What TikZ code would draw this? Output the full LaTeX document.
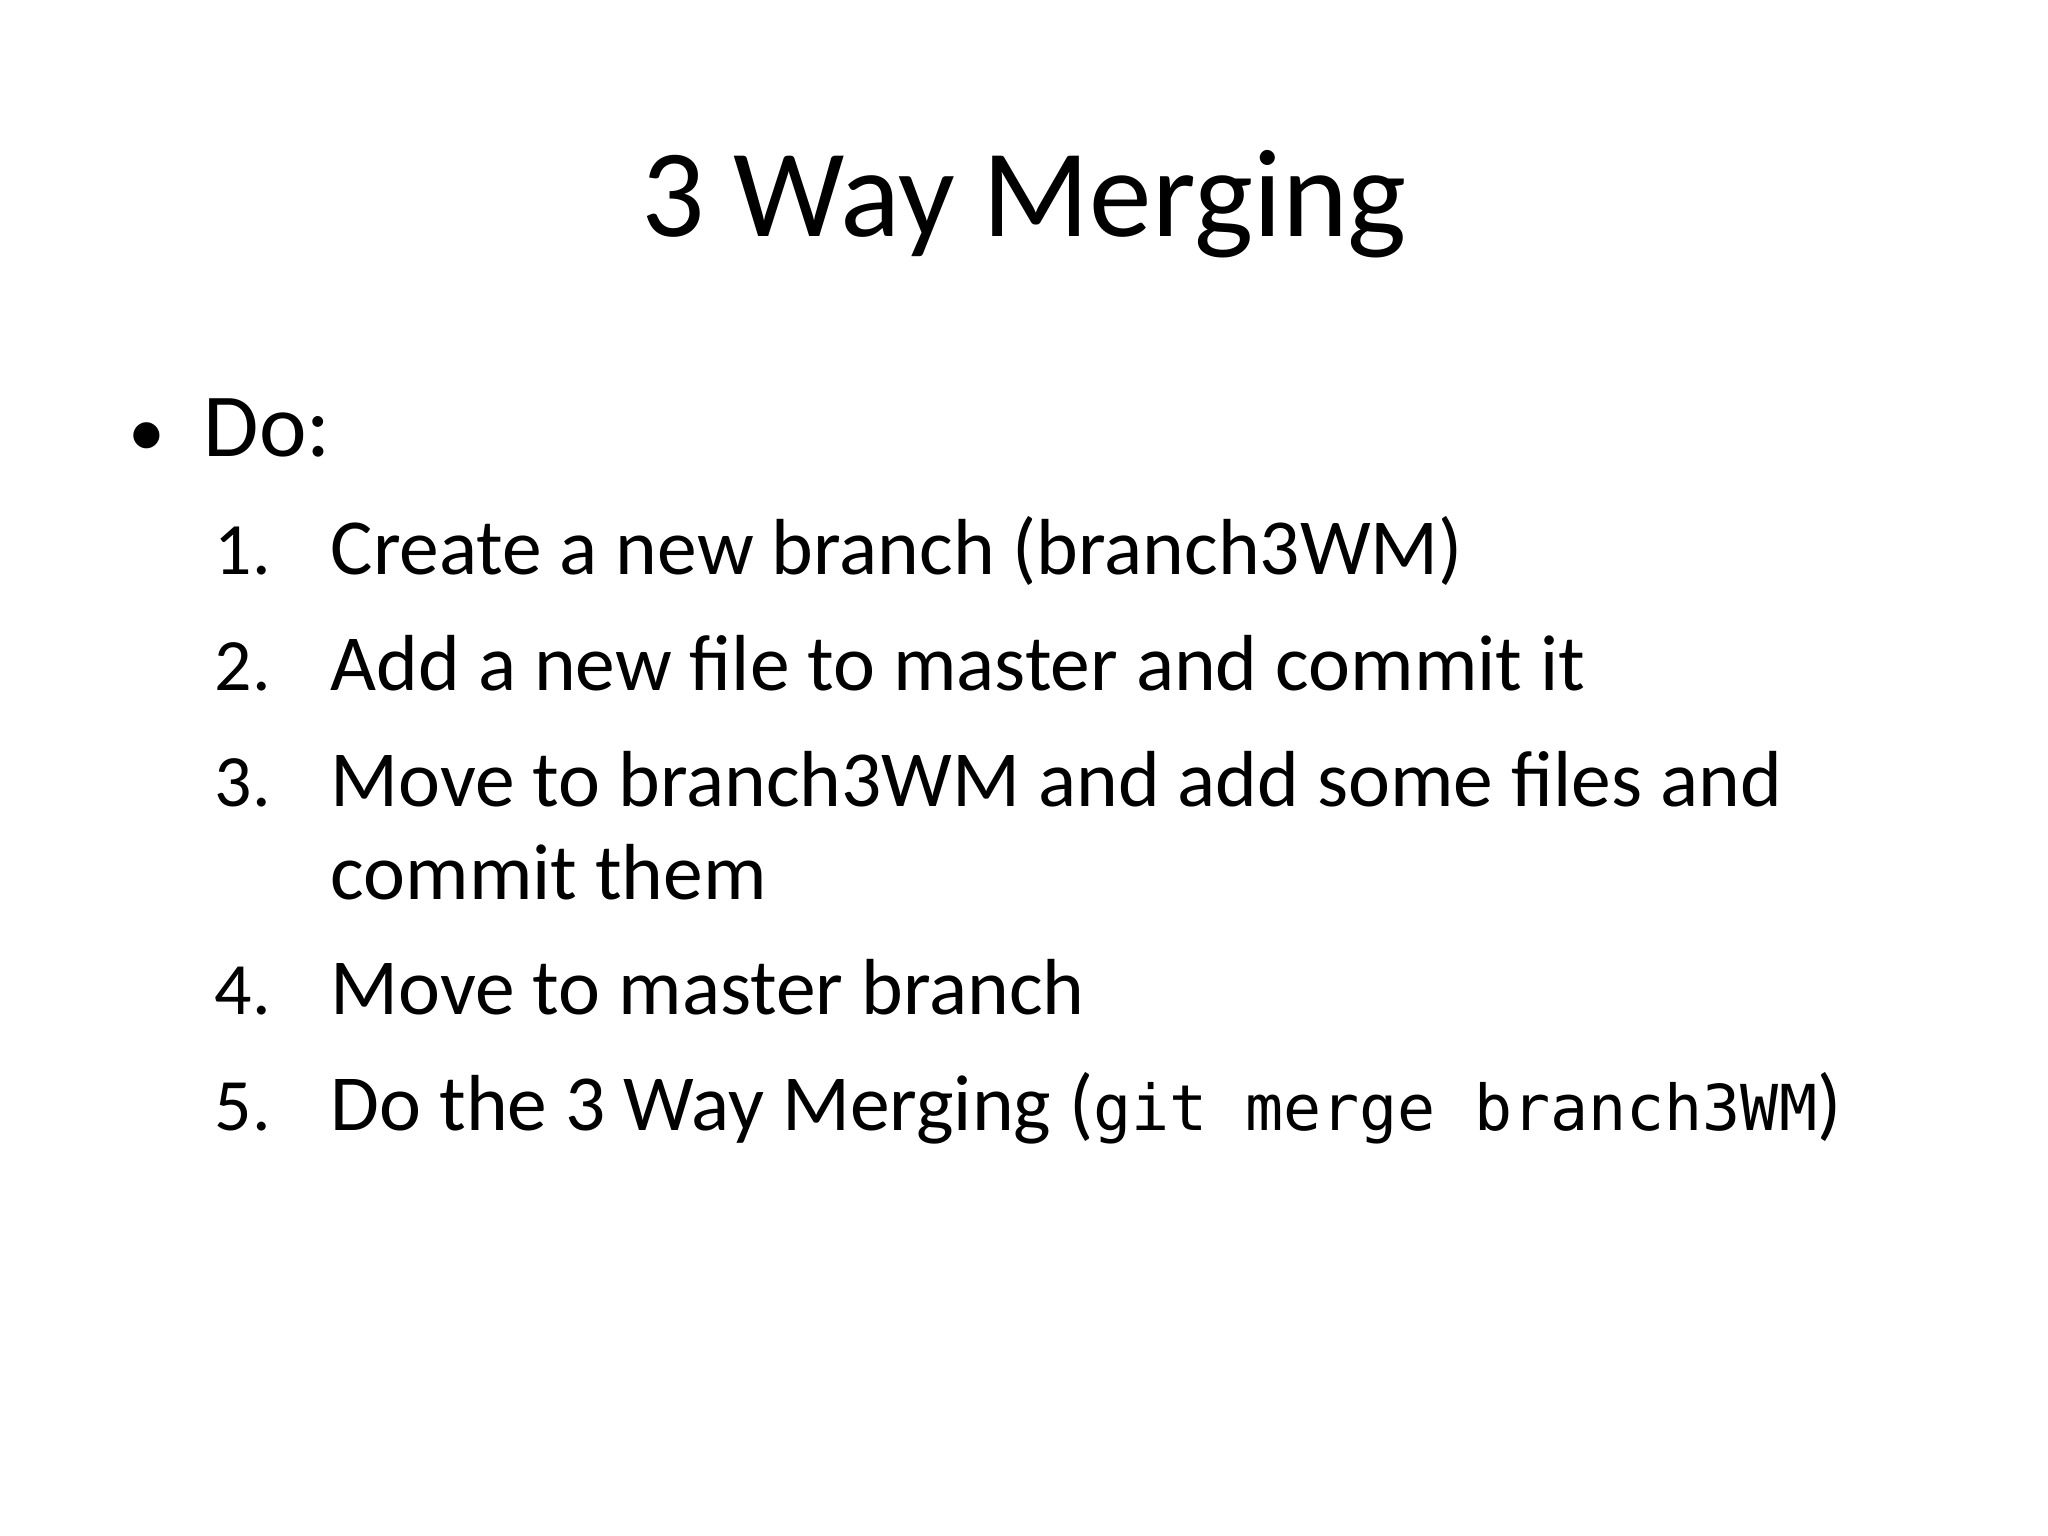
\documentclass[tikz,border=0pt]{standalone}
\usepackage{fontspec}
\setmainfont{Carlito}
\setmonofont{DejaVu Sans Mono}
\begin{document}
\begin{tikzpicture}[x=0.01cm,y=-0.01cm,
  body/.style={anchor=base west,inner sep=0pt,font=\fontsize{22.6pt}{27pt}\selectfont},
  num/.style={anchor=base west,inner sep=0pt,font=\fontsize{21pt}{25pt}\selectfont}]
\useasboundingbox[fill=white] (0,0) rectangle (2048,1536);
\node[anchor=base,inner sep=0pt,font=\fontsize{35.6pt}{40pt}\selectfont] (title) at (1024,236) {3 Way Merging};
\node[anchor=base west,inner sep=0pt,font=\fontsize{21pt}{25pt}\selectfont] (bul) at (128,456) {•};
\node[anchor=base west,inner sep=0pt,font=\fontsize{25.6pt}{30pt}\selectfont] (do) at (203,456) {Do:};
\node[num] (n1) at (214,574) {1.};
\node[body] (t1) at (330,574) {Create a new branch (branch3WM)};
\node[num] (n2) at (214,690) {2.};
\node[body] (t2) at (330,690) {Add a new file to master and commit it};
\node[num] (n3) at (214,806) {3.};
\node[body] (t3) at (330,806) {Move to branch3WM and add some files and};
\node[body] (t3b) at (330,899) {commit them};
\node[num] (n4) at (214,1014) {4.};
\node[body] (t4) at (330,1014) {Move to master branch};
\node[num] (n5) at (214,1130) {5.};
\node[body] (t5) at (330,1130) {Do the 3 Way Merging ({\fontsize{18pt}{21pt}\selectfont\ttfamily git merge branch3WM})};
\end{tikzpicture}
\end{document}
